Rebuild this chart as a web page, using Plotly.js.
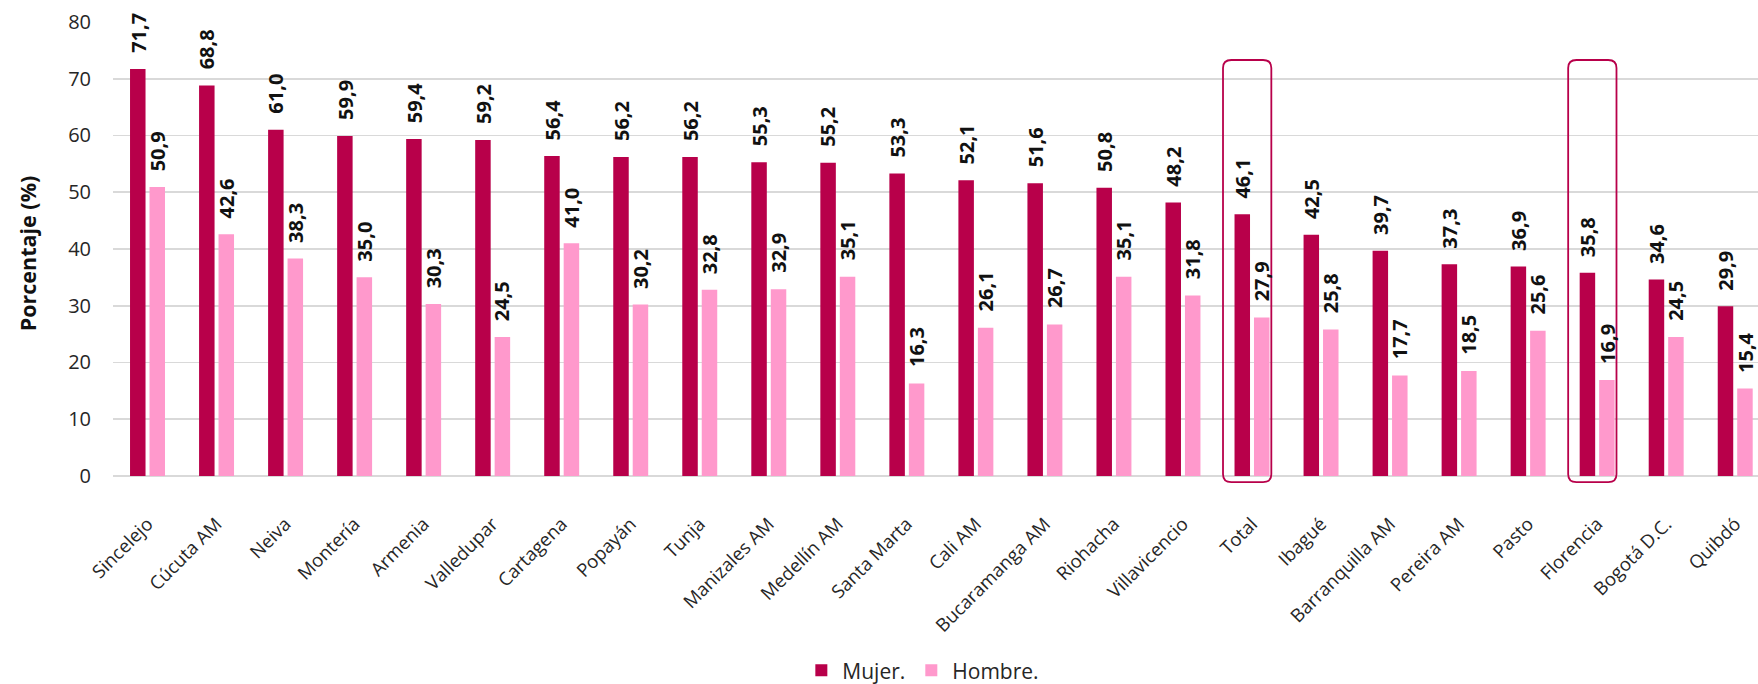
<!DOCTYPE html>
<html><head><meta charset="utf-8">
<script src="https://cdn.plot.ly/plotly-3.0.1.min.js"></script>
<style>html,body{margin:0;padding:0;background:#fff;}#chart{width:1758px;height:684px;}</style>
</head><body><div id="chart"></div>
<script>
const categories = ['Sincelejo','Cúcuta AM','Neiva','Montería','Armenia','Valledupar','Cartagena','Popayán','Tunja','Manizales AM','Medellín AM','Santa Marta','Cali AM','Bucaramanga AM','Riohacha','Villavicencio','Total','Ibagué','Barranquilla AM','Pereira AM','Pasto','Florencia','Bogotá D.C.','Quibdó'];
const mujer  = [71.7,68.8,61.0,59.9,59.4,59.2,56.4,56.2,56.2,55.3,55.2,53.3,52.1,51.6,50.8,48.2,46.1,42.5,39.7,37.3,36.9,35.8,34.6,29.9];
const hombre = [50.9,42.6,38.3,35.0,30.3,24.5,41.0,30.2,32.8,32.9,35.1,16.3,26.1,26.7,35.1,31.8,27.9,25.8,17.7,18.5,25.6,16.9,24.5,15.4];
const highlighted = ['Total','Florencia'];
const yTicks = [0,10,20,30,40,50,60,70,80];
const seriesNames = ['Mujer.','Hombre.'];

const COL_M = '#B8004A', COL_H = '#FF99CC';
const FONT = '"Open Sans", "Noto Sans", sans-serif';
const BARGAP = 0.436, GROUPGAP = 0.204;
const slot = (1 - BARGAP) / 2;
const idx = categories.map((c, i) => i);
const fmt = v => v.toFixed(1).replace('.', ',');

const traces = [
  {type:'bar', x: idx, y: mujer, name: seriesNames[0], marker:{color: COL_M}, hoverinfo:'y'},
  {type:'bar', x: idx, y: hombre, name: seriesNames[1], marker:{color: COL_H}, hoverinfo:'y'}
];

const annotations = [];
idx.forEach(i => {
  [[mujer, -1], [hombre, 1]].forEach(([arr, s]) => {
    annotations.push({
      x: i + s * slot / 2, y: arr[i], xref:'x', yref:'y',
      text: fmt(arr[i]), textangle: -90, showarrow: false,
      xanchor:'center', yanchor:'bottom', yshift: 14,
      font:{family: FONT, size: 20, color:'#111', weight: 'bold'}
    });
  });
});

const shapes = highlighted.map(name => {
  const i = categories.indexOf(name);
  const x0 = i - 0.42, x1 = i + 0.28, y0 = -1.1, y1 = 73.3;
  const rx = 0.12, ry = 1.4;
  const p = `M${x0+rx},${y0} L${x1-rx},${y0} Q${x1},${y0} ${x1},${y0+ry} L${x1},${y1-ry} Q${x1},${y1} ${x1-rx},${y1} L${x0+rx},${y1} Q${x0},${y1} ${x0},${y1-ry} L${x0},${y0+ry} Q${x0},${y0} ${x0+rx},${y0} Z`;
  return {type:'path', xref:'x', yref:'y', path: p, line:{color: COL_M, width: 1.8}, fillcolor:'rgba(0,0,0,0)'};
});

const layout = {
  width: 1758, height: 684,
  margin: {l: 113, r: 0, t: 22, b: 198.5, autoexpand: false},
  paper_bgcolor:'#fff', plot_bgcolor:'#fff',
  font: {family: FONT, color:'#262626'},
  barmode:'group', bargap: BARGAP, bargroupgap: GROUPGAP,
  showlegend: true,
  legend: {orientation:'h', x: 0.492, xanchor:'center', y: -0.401, yanchor:'middle',
           font:{size: 21, color:'#262626'}, traceorder:'normal', itemwidth: 32},
  xaxis: {
    type:'linear', range:[-0.5, 23.33], tickvals: idx, ticktext: categories,
    tickangle: -45, tickfont:{size: 18.5, color:'#262626'},
    ticks:'outside', ticklen: 20, tickcolor:'rgba(0,0,0,0)',
    showgrid: false, zeroline: false, showline: false, fixedrange: true
  },
  yaxis: {
    range:[-1.6, 80], tickvals: yTicks, ticktext: yTicks.map(String),
    tickfont:{size: 20, color:'#262626'},
    ticks:'outside', ticklen: 17, tickcolor:'rgba(0,0,0,0)',
    showgrid: true, gridcolor:'#d9d9d9', gridwidth: 1.6, zeroline: false, showline: false,
    title:{text:'Porcentaje (%)', font:{size: 21.5, color:'#111', weight:'bold'}, standoff: 25},
    fixedrange: true
  },
  annotations, shapes
};

Plotly.newPlot('chart', traces, layout, {displayModeBar: false, staticPlot: true});
</script>
</body></html>
